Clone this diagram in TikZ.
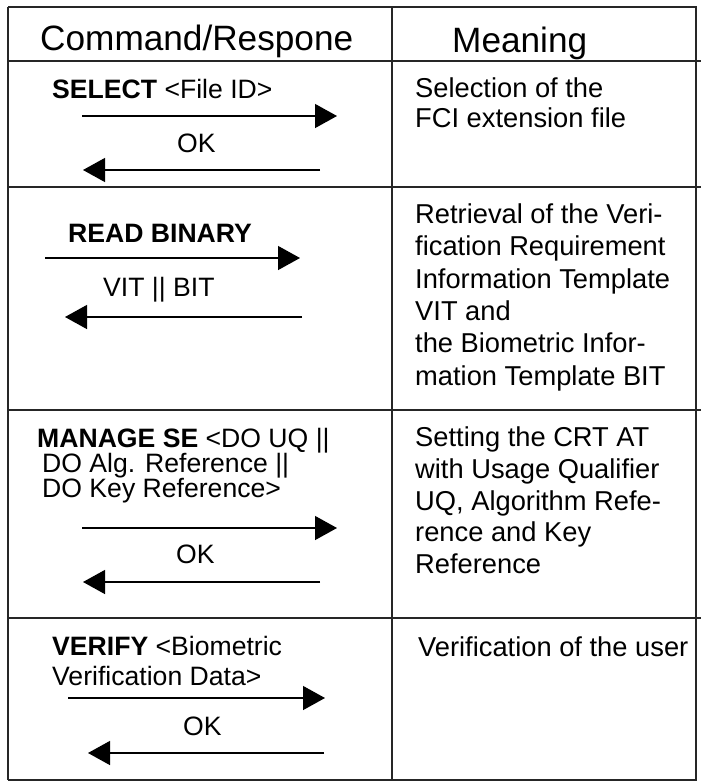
\documentclass[tikz,border=0pt]{standalone}
\usepackage{fontspec}
\setmainfont{Liberation Sans}
\usetikzlibrary{arrows.meta}

\tikzset{
  rule/.style={line width=1.6pt, black!85},
  msg/.style={line width=1.3pt, -{Triangle[length=22pt,width=24pt]}},
  head/.style={anchor=base west, inner sep=0pt, font=\fontsize{35.2}{40}\selectfont},
  txt/.style={anchor=base west, inner sep=0pt, font=\fontsize{26.6}{30}\selectfont},
  note/.style={anchor=base west, inner sep=0pt, font=\fontsize{27.3}{30}\selectfont},
}

\begin{document}
\begin{tikzpicture}[x=1pt, y={(0pt,-1pt)}]
\useasboundingbox[fill=white] (0,0) rectangle (704,782);

% table rules
\draw[rule] (8,7) -- (697,7);
\draw[rule] (8,61) -- (701,61);
\draw[rule] (8,187) -- (701,187);
\draw[rule] (8,410) -- (701,410);
\draw[rule] (8,618) -- (701,618);
\draw[rule] (8,780) -- (697,780);
\draw[rule] (8,7) -- (8,780);
\draw[rule] (392,7) -- (392,780);
\draw[rule] (696,7) -- (696,780);

% header
\node[head] (hcmd) at (40,50) {Command/Respone};
\node[head] (hmean) at (452,52) {Meaning};

% SELECT
\node[txt] (selcmd) at (52,98) {\textbf{SELECT} <File ID>};
\coordinate (selA) at (82,116);
\coordinate (selB) at (337,116);
\draw[msg] (selA) -- (selB);
\node[txt] (selok) at (177,152) {OK};
\coordinate (selC) at (320,170);
\coordinate (selD) at (83,170);
\draw[msg] (selC) -- (selD);
\node[note] (selm1) at (415,97) {Selection of the};
\node[note] (selm2) at (415,127) {FCI extension file};

% READ BINARY
\node[txt] (rbcmd) at (68,242) {\textbf{READ BINARY}};
\coordinate (rbA) at (45,258);
\coordinate (rbB) at (300,258);
\draw[msg] (rbA) -- (rbB);
\node[txt] (rbrsp) at (103,296) {VIT || BIT};
\coordinate (rbC) at (302,317);
\coordinate (rbD) at (65,317);
\draw[msg] (rbC) -- (rbD);
\node[note] (rbm1) at (415,223) {Retrieval of the Veri-};
\node[note] (rbm2) at (415,255.5) {fication Requirement};
\node[note] (rbm3) at (415,288) {Information Template};
\node[note] (rbm4) at (415,320) {VIT and};
\node[note] (rbm5) at (415,352.5) {the Biometric Infor-};
\node[note] (rbm6) at (415,385) {mation Template BIT};

% MANAGE SE
\node[txt] (msc1) at (37,447) {\textbf{MANAGE SE} <DO UQ ||};
\node[txt] (msc2) at (42,472) {DO Alg. Reference ||};
\node[txt] (msc3) at (42,497) {DO Key Reference>};
\coordinate (msA) at (82,528);
\coordinate (msB) at (337,528);
\draw[msg] (msA) -- (msB);
\node[txt] (msok) at (176,563) {OK};
\coordinate (msC) at (320,582);
\coordinate (msD) at (83,582);
\draw[msg] (msC) -- (msD);
\node[note] (msm1) at (415,446) {Setting the CRT AT};
\node[note] (msm2) at (415,478) {with Usage Qualifier};
\node[note] (msm3) at (415,510) {UQ, Algorithm Refe-};
\node[note] (msm4) at (415,541) {rence and Key};
\node[note] (msm5) at (415,573) {Reference};

% VERIFY
\node[txt] (vfc1) at (52,655) {\textbf{VERIFY} <Biometric};
\node[txt] (vfc2) at (52,685) {Verification Data>};
\coordinate (vfA) at (68,698);
\coordinate (vfB) at (325,698);
\draw[msg] (vfA) -- (vfB);
\node[txt] (vfok) at (183,735) {OK};
\coordinate (vfC) at (324,753);
\coordinate (vfD) at (88,753);
\draw[msg] (vfC) -- (vfD);
\node[note] (vfm1) at (418,656) {Verification of the user};
\end{tikzpicture}
\end{document}
